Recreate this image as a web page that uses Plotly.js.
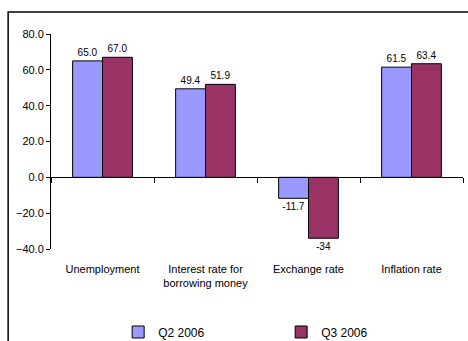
<!DOCTYPE html>
<html>
<head>
<meta charset="utf-8">
<script src="https://cdn.plot.ly/plotly-3.0.1.min.js"></script>
<style>html,body{margin:0;padding:0;background:#fff;}#chart{width:468px;height:341px;}</style>
</head>
<body>
<div id="chart"></div>
<script>
var categories = ["Unemployment", "Interest rate for<br>borrowing money", "Exchange rate", "Inflation rate"];
var seriesNames = ["Q2 2006", "Q3 2006"];
var q2Values = [65.0, 49.4, -11.7, 61.5];
var q3Values = [67.0, 51.9, -34, 63.4];
var q2Labels = ["65.0", "49.4", "-11.7", "61.5"];
var q3Labels = ["67.0", "51.9", "-34", "63.4"];
var yTickVals = [-40, -20, 0, 20, 40, 60, 80];

var FONT = "Liberation Sans, Arial, sans-serif";

var traces = [
  {type: "bar", name: seriesNames[0], x: categories, y: q2Values, text: q2Labels,
   textposition: "outside", cliponaxis: false, textfont: {size: 10, color: "#000", family: FONT},
   marker: {color: "#9999FF", line: {color: "#000", width: 1}}, hoverinfo: "skip"},
  {type: "bar", name: seriesNames[1], x: categories, y: q3Values, text: q3Labels,
   textposition: "outside", cliponaxis: false, textfont: {size: 10, color: "#000", family: FONT},
   marker: {color: "#993366", line: {color: "#000", width: 1}}, hoverinfo: "skip"},
  {type: "scatter", mode: "markers", x: categories, y: categories.map(function(){return null;}),
   xaxis: "x2", showlegend: false, hoverinfo: "skip", marker: {opacity: 0}}
];

var layout = {
  width: 468, height: 341,
  margin: {l: 51, r: 5, t: 34, b: 92, pad: 0, autoexpand: false},
  paper_bgcolor: "#fff", plot_bgcolor: "rgba(0,0,0,0)",
  font: {family: FONT, size: 11, color: "#000"},
  barmode: "group", bargap: 0.42, bargroupgap: 0,
  showlegend: true,
  legend: {orientation: "h", x: 0.163, xanchor: "left", y: -0.386, yanchor: "middle",
           font: {size: 12, family: FONT, color: "#000"}, entrywidth: 118, entrywidthmode: "pixels",
           bgcolor: "rgba(0,0,0,0)"},
  xaxis: {type: "category", range: [-0.5, 3.5], showline: false, ticks: "", showgrid: false,
          zeroline: false, tickfont: {size: 11, family: FONT, color: "#000"}, ticklabelstandoff: 12,
          fixedrange: true},
  xaxis2: {type: "category", overlaying: "x", anchor: "free", position: 1/3, side: "bottom",
           range: [-0.5, 3.5], showline: true, linecolor: "#000", linewidth: 1,
           ticks: "outside", ticklen: 5, tickcolor: "#000", tickwidth: 1, tickson: "boundaries",
           showticklabels: false, showgrid: false, zeroline: false, fixedrange: true},
  yaxis: {range: [-40, 80], tickvals: yTickVals, tickformat: ".1f", showgrid: false, zeroline: false,
          showline: true, linecolor: "#000", linewidth: 1, ticks: "outside", ticklen: 4,
          tickcolor: "#000", tickfont: {size: 11, family: FONT, color: "#000"}, fixedrange: true},
  shapes: [{type: "rect", xref: "paper", yref: "paper",
            x0: -0.104, x1: 1.03, y0: -0.46, y1: 1.102,
            line: {color: "#000", width: 1.5}, fillcolor: "rgba(0,0,0,0)", layer: "below"}]
};

Plotly.newPlot("chart", traces, layout, {displayModeBar: false, staticPlot: true});
</script>
</body>
</html>
